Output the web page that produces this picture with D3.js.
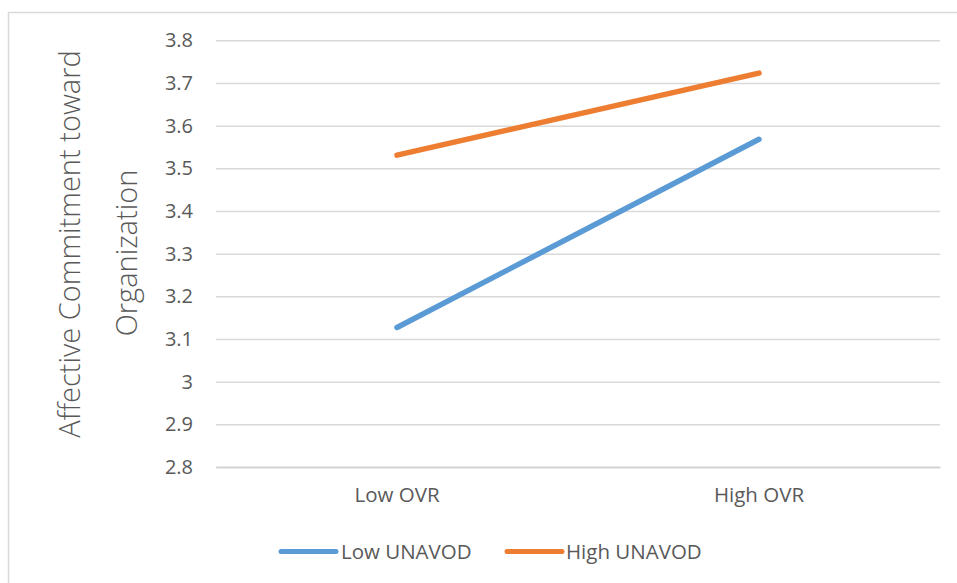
<!DOCTYPE html>
<html>
<head>
<meta charset="utf-8">
<script src="https://cdn.jsdelivr.net/npm/d3@7"></script>
<style>
  html, body { margin: 0; padding: 0; background: #fff; }
  svg { display: block; }
  text { font-family: "Open Sans", Lato, sans-serif; fill: #595959; }
</style>
</head>
<body>
<svg id="chart" width="957" height="583"></svg>
<script>
// Interaction plot: affective commitment by OVR level and UNAVOD group
const categories = ["Low OVR", "High OVR"];
const seriesNames = ["Low UNAVOD", "High UNAVOD"];
const lowUnavod = [3.127, 3.568];
const highUnavod = [3.531, 3.723];
const yTicks = [2.8, 2.9, 3.0, 3.1, 3.2, 3.3, 3.4, 3.5, 3.6, 3.7, 3.8];
const colors = ["#5B9BD5", "#ED7D31"];
const yTitleLines = ["Affective Commitment toward", "Organization"];

const svg = d3.select("#chart");
const W = 957, H = 583;

// chart frame
svg.append("rect")
  .attr("x", 8.5).attr("y", 12.5)
  .attr("width", W + 20).attr("height", H + 20)
  .attr("fill", "#fff").attr("stroke", "#d9d9d9").attr("stroke-width", 1.5);

const plot = { left: 216, right: 940, top: 40.3, bottom: 467 };

const x = d3.scaleBand().domain(categories).range([plot.left, plot.right]).padding(0);
const y = d3.scaleLinear().domain([2.8, 3.8]).range([plot.bottom, plot.top]);

// horizontal gridlines + tick labels via axis
const yAxis = d3.axisLeft(y)
  .tickValues(yTicks)
  .tickSize(-(plot.right - plot.left))
  .tickPadding(23)
  .tickFormat(d => d3.format("")(+d.toFixed(1)));

const gy = svg.append("g")
  .attr("transform", `translate(${plot.left},0)`)
  .call(yAxis);
gy.select(".domain").remove();
gy.selectAll(".tick line").attr("stroke", "#d9d9d9").attr("stroke-width", 1.5);
gy.selectAll(".tick text")
  .attr("font-size", 20)
  .attr("font-family", "'Open Sans', sans-serif")
  .attr("fill", "#595959");

// category axis
const xAxis = d3.axisBottom(x).tickSize(0).tickPadding(20);
const gx = svg.append("g")
  .attr("transform", `translate(0,${plot.bottom})`)
  .call(xAxis);
gx.select(".domain").attr("stroke", "#d0d0d0").attr("stroke-width", 1.5);
gx.selectAll(".tick text")
  .attr("font-size", 20.5)
  .attr("font-family", "'Open Sans', sans-serif")
  .attr("fill", "#595959");

// series lines
const line = d3.line()
  .x((d, i) => x(categories[i]) + x.bandwidth() / 2)
  .y(d => y(d));

[lowUnavod, highUnavod].forEach((vals, k) => {
  svg.append("path")
    .datum(vals)
    .attr("d", line)
    .attr("fill", "none")
    .attr("stroke", colors[k])
    .attr("stroke-width", 5.5)
    .attr("stroke-linecap", "round");
});

// y-axis title (two rotated lines)
const titleCenters = [
  { bx: 80, cy: 244 },
  { bx: 137, cy: 253 }
];
yTitleLines.forEach((t, i) => {
  svg.append("text")
    .attr("transform", `translate(${titleCenters[i].bx},${titleCenters[i].cy}) rotate(-90)`)
    .attr("text-anchor", "middle")
    .attr("font-size", 29)
    .attr("font-weight", 300)
    .text(t);
});

// legend
const legendItems = [
  { x1: 281, x2: 336, tx: 341 },
  { x1: 507, x2: 562, tx: 566 }
];
const lg = svg.append("g");
seriesNames.forEach((name, i) => {
  const it = legendItems[i];
  lg.append("line")
    .attr("x1", it.x1).attr("x2", it.x2)
    .attr("y1", 551.5).attr("y2", 551.5)
    .attr("stroke", colors[i]).attr("stroke-width", 5)
    .attr("stroke-linecap", "round");
  lg.append("text")
    .attr("x", it.tx).attr("y", 551.5)
    .attr("dy", "0.35em")
    .attr("font-size", 20.5)
    .text(name);
});
</script>
</body>
</html>
